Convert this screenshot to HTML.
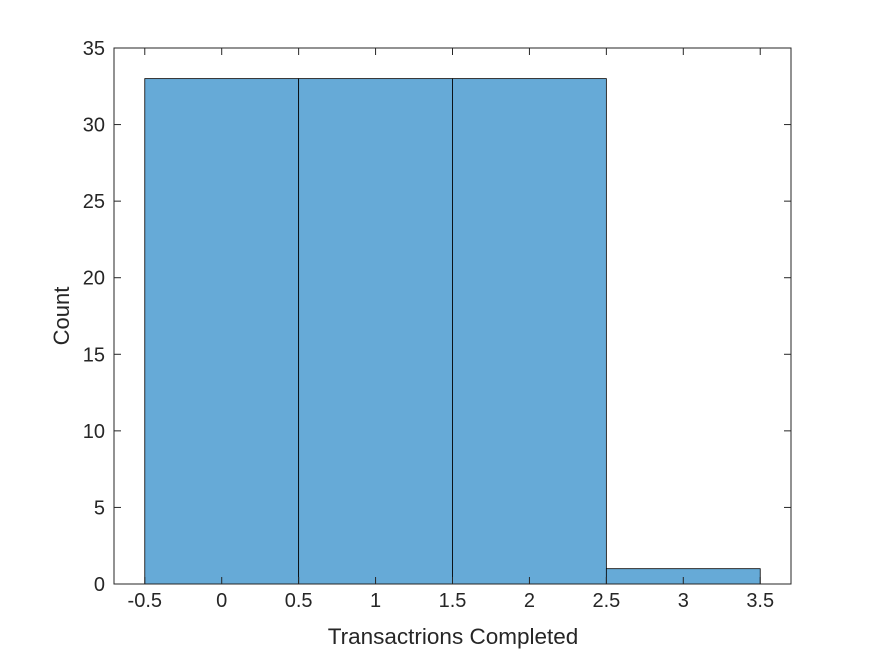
<!DOCTYPE html>
<html><head><meta charset="utf-8"><style>
html,body{margin:0;padding:0;background:#fff;}
svg{display:block;font-family:"Liberation Sans",Arial,sans-serif;}
</style></head><body>
<svg id="chart" width="875" height="656" viewBox="0 0 875 656">
<rect x="0" y="0" width="875" height="656" fill="#fff"/>
<g id="bars"></g>
<g id="axes"></g>
</svg>
<script>
const binEdges = [-0.5, 0.5, 1.5, 2.5, 3.5];
const counts = [33, 33, 33, 1];
const xTicks = [-0.5, 0, 0.5, 1, 1.5, 2, 2.5, 3, 3.5];
const xTickLabels = ["-0.5", "0", "0.5", "1", "1.5", "2", "2.5", "3", "3.5"];
const yTicks = [0, 5, 10, 15, 20, 25, 30, 35];
const yTickLabels = ["0", "5", "10", "15", "20", "25", "30", "35"];

const L = 114, R = 791, T = 48, B = 584;
const xMin = -0.7, xMax = 3.7, yMin = 0, yMax = 35;
const xs = v => L + (v - xMin) / (xMax - xMin) * (R - L);
const ys = v => B - (v - yMin) / (yMax - yMin) * (B - T);
const NS = "http://www.w3.org/2000/svg";
function mk(tag, attrs, parent) {
  const e = document.createElementNS(NS, tag);
  for (const k in attrs) e.setAttribute(k, attrs[k]);
  parent.appendChild(e);
  return e;
}
const bars = document.getElementById("bars");
const axes = document.getElementById("axes");
for (let i = 0; i < counts.length; i++) {
  const x0 = xs(binEdges[i]), x1 = xs(binEdges[i + 1]);
  const r = mk("rect", {x: x0, y: ys(counts[i]), width: x1 - x0, height: ys(0) - ys(counts[i]), fill: "#66aad7", stroke: "#000", "stroke-width": 0.8}, bars);
  
  
}
const box = mk("rect", {x: L, y: T, width: R - L, height: B - T, fill: "none", stroke: "#262626", "stroke-width": 1}, axes);


const tl = 7;
xTicks.forEach((v, i) => {
  const x = xs(v);
  mk("line", {x1: x, x2: x, y1: B, y2: B - tl, stroke: "#262626"}, axes);
  mk("line", {x1: x, x2: x, y1: T, y2: T + tl, stroke: "#262626"}, axes);
  const t = mk("text", {x: x, y: B + 23, "text-anchor": "middle", "font-size": 20, fill: "#262626"}, axes);
  t.textContent = xTickLabels[i];
  
  
});
yTicks.forEach((v, i) => {
  const y = ys(v);
  mk("line", {x1: L, x2: L + tl, y1: y, y2: y, stroke: "#262626"}, axes);
  mk("line", {x1: R, x2: R - tl, y1: y, y2: y, stroke: "#262626"}, axes);
  const t = mk("text", {x: L - 9, y: y + 7, "text-anchor": "end", "font-size": 20, fill: "#262626"}, axes);
  t.textContent = yTickLabels[i];
  
  
});
const xl = mk("text", {x: (L + R) / 2 + 0.5, y: 644, "text-anchor": "middle", "font-size": 22.5, fill: "#262626"}, axes);
xl.textContent = "Transactrions Completed";


const yl = mk("text", {x: 0, y: 0, "text-anchor": "middle", "font-size": 22, fill: "#262626", transform: "translate(69," + ((T + B) / 2) + ") rotate(-90)"}, axes);
yl.textContent = "Count";


</script>
</body></html>
